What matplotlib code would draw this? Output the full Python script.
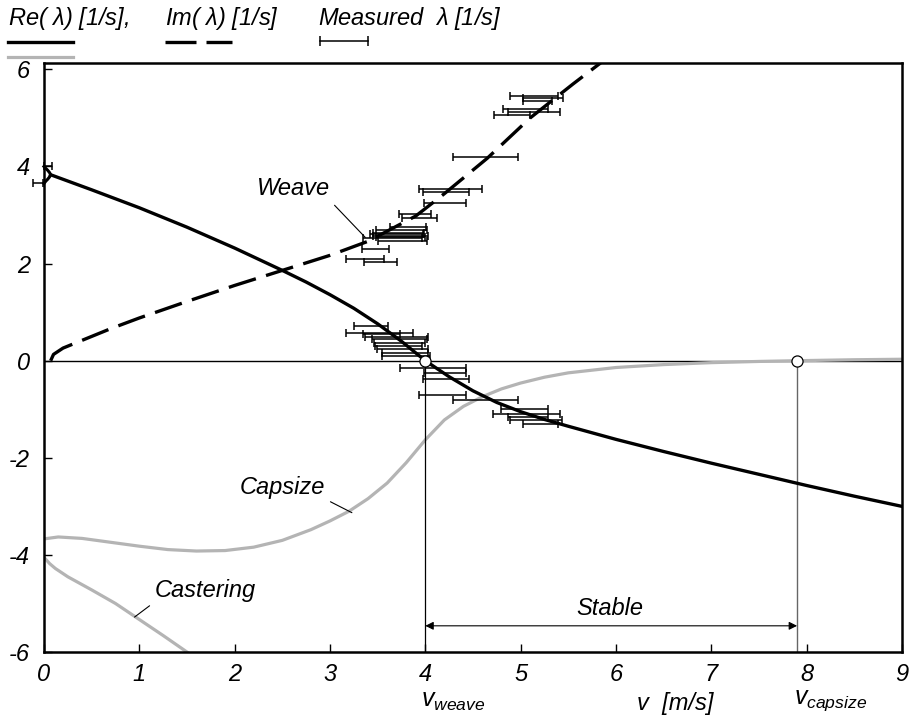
import numpy as np
import matplotlib
matplotlib.use("Agg")
import matplotlib.pyplot as plt
from matplotlib.lines import Line2D

plt.rcParams['font.family'] = ['Liberation Sans', 'DejaVu Sans']
plt.rcParams['font.style'] = 'italic'
plt.rcParams['mathtext.fontset'] = 'custom'
plt.rcParams['mathtext.it'] = 'Liberation Sans:italic'
plt.rcParams['mathtext.rm'] = 'Liberation Sans'
plt.rcParams['axes.unicode_minus'] = False

# weave mode: real part (two real roots at v=0 merging into a complex pair)
weave_split_v = [0.0, 0.02, 0.04, 0.06, 0.07, 0.06, 0.04, 0.02, 0.0]
weave_split_re = [4.00, 3.96, 3.92, 3.87, 3.83, 3.79, 3.74, 3.70, 3.65]
weave_v = [0.07, 0.5, 1.0, 1.5, 2.0, 2.5, 2.75, 3.0, 3.25, 3.5, 3.75, 4.0,
           4.25, 4.5, 4.75, 5.0, 5.25, 5.5, 6.0, 6.5, 7.0, 7.5, 8.0, 8.5, 9.0]
weave_re = [3.83, 3.52, 3.15, 2.75, 2.32, 1.86, 1.62, 1.36, 1.08, 0.76, 0.40,
            0.0, -0.33, -0.62, -0.86, -1.05, -1.21, -1.35, -1.62, -1.87,
            -2.11, -2.34, -2.57, -2.79, -3.00]

# weave mode: imaginary part
weave_im_v = [0.07, 0.1, 0.2, 0.4, 0.7, 1.0, 1.5, 2.0, 2.5, 3.0, 3.4, 3.9,
              4.2, 4.65, 5.1, 5.55, 5.95]
weave_im = [0.0, 0.13, 0.26, 0.42, 0.66, 0.88, 1.22, 1.55, 1.86, 2.17, 2.46,
            2.98, 3.44, 4.17, 5.0, 5.7, 6.3]

# capsize mode
capsize_v = [0.0, 0.15, 0.4, 0.7, 1.0, 1.3, 1.6, 1.9, 2.2, 2.5, 2.8, 3.0, 3.2,
             3.4, 3.6, 3.8, 4.0, 4.2, 4.4, 4.6, 4.8, 5.0, 5.25, 5.5, 6.0, 6.5,
             7.0, 7.5, 7.9, 8.5, 9.0]
capsize_re = [-3.67, -3.63, -3.66, -3.74, -3.82, -3.89, -3.92, -3.91, -3.84,
              -3.70, -3.48, -3.30, -3.10, -2.84, -2.52, -2.10, -1.63, -1.22,
              -0.94, -0.74, -0.58, -0.46, -0.34, -0.25, -0.14, -0.08, -0.04,
              -0.015, 0.0, 0.02, 0.03]

# castering mode
caster_v = [0.0, 0.06, 0.12, 0.25, 0.5, 0.75, 1.0, 1.25, 1.5, 1.65]
caster_re = [-4.05, -4.18, -4.28, -4.45, -4.72, -5.00, -5.33, -5.66, -6.00,
             -6.20]

# measured eigenvalues: real parts
meas_re_v = [-0.06, 0.04, 3.43, 3.52, 3.54, 3.70, 3.73, 3.73, 3.72, 3.76,
             3.79, 3.80, 4.08, 4.21, 4.22, 4.18, 4.63, 5.04, 5.06, 5.08,
             5.16, 5.21]
meas_re_err = [0.05, 0.04, 0.18, 0.35, 0.19, 0.33, 0.29, 0.27, 0.25, 0.27,
               0.24, 0.25, 0.35, 0.22, 0.24, 0.25, 0.34, 0.25, 0.35, 0.21,
               0.27, 0.18]
meas_re = [3.65, 4.00, 0.72, 0.58, 0.55, 0.49, 0.45, 0.37, 0.31, 0.25, 0.16,
           0.10, -0.14, -0.25, -0.37, -0.70, -0.80, -0.99, -1.10, -1.16,
           -1.22, -1.30]

# measured eigenvalues: imaginary parts
meas_im_v = [5.14, 5.23, 5.18, 5.05, 5.14, 4.91, 4.63, 4.26, 4.22, 4.21, 3.89,
             3.94, 3.82, 3.75, 3.72, 3.70, 3.74, 3.74, 3.66, 3.76, 3.48, 3.37,
             3.53]
meas_im_err = [0.25, 0.21, 0.15, 0.24, 0.27, 0.19, 0.34, 0.33, 0.24, 0.22,
               0.17, 0.18, 0.19, 0.27, 0.27, 0.28, 0.29, 0.26, 0.31, 0.26,
               0.14, 0.20, 0.17]
meas_im = [5.46, 5.42, 5.34, 5.18, 5.13, 5.07, 4.19, 3.53, 3.48, 3.24, 3.03,
           2.93, 2.76, 2.70, 2.64, 2.60, 2.57, 2.55, 2.52, 2.46, 2.31, 2.10,
           2.04]

v_weave = 4.0
v_capsize = 7.9
gray = '#b4b4b4'
fs = 17

fig = plt.figure(figsize=(9.2, 7.2), dpi=100)
ax = fig.add_axes([0.0478, 0.0944, 0.9326, 0.818])

ax.axhline(0, color='black', lw=1.0, zorder=1)
ax.plot(capsize_v, capsize_re, color=gray, lw=2.3, zorder=2)
ax.plot(caster_v, caster_re, color=gray, lw=2.3, zorder=2)
ax.plot(weave_split_v, weave_split_re, color='black', lw=2.2, zorder=3,
        clip_on=False)
ax.plot(weave_v, weave_re, color='black', lw=2.4, zorder=3)
ax.plot(weave_im_v, weave_im, color='black', lw=2.4, zorder=3,
        linestyle=(0, (8.5, 3.2)))

ax.errorbar(meas_re_v, meas_re, xerr=meas_re_err, fmt='none', ecolor='black',
            elinewidth=1.1, capsize=3, capthick=1.1, zorder=4, clip_on=False)
ax.errorbar(meas_im_v, meas_im, xerr=meas_im_err, fmt='none', ecolor='black',
            elinewidth=1.1, capsize=3, capthick=1.1, zorder=4)

# stability limits
ax.plot([v_weave, v_weave], [0, -6], color='black', lw=0.9, zorder=2)
ax.plot([v_capsize, v_capsize], [0, -6], color='#666666', lw=1.0, zorder=2)
ax.plot([v_weave, v_capsize], [0, 0], 'o', ms=8, mfc='white', mec='black',
        mew=0.9, zorder=6)

ax.annotate('', xy=(v_weave, -5.46), xytext=(v_capsize, -5.46),
            arrowprops=dict(arrowstyle='<|-|>', lw=0.8, color='black',
                            mutation_scale=12, shrinkA=0, shrinkB=0))
ax.text(5.94, -5.11, 'Stable', fontsize=fs, ha='center', va='center')

ax.annotate('Weave', xy=(3.37, 2.54), xytext=(3.0, 3.3), fontsize=fs,
            ha='right', va='bottom',
            arrowprops=dict(arrowstyle='-', lw=0.8, color='black',
                            relpos=(1, 0), shrinkA=2, shrinkB=0))
ax.annotate('Capsize', xy=(3.23, -3.13), xytext=(2.95, -2.85), fontsize=fs,
            ha='right', va='bottom',
            arrowprops=dict(arrowstyle='-', lw=0.8, color='black',
                            relpos=(1, 0), shrinkA=2, shrinkB=0))
ax.annotate('Castering', xy=(0.95, -5.28), xytext=(1.16, -4.97), fontsize=fs,
            ha='left', va='bottom',
            arrowprops=dict(arrowstyle='-', lw=0.8, color='black',
                            relpos=(0, 0), shrinkA=2, shrinkB=0))

ax.set_xlim(0, 9)
ax.set_ylim(-6, 6.13)
ax.set_xticks(range(0, 10))
ax.set_yticks([-6, -4, -2, 0, 2, 4, 6])
ax.tick_params(direction='in', length=6, width=1, labelsize=fs)
ax.tick_params(axis='x', pad=8)
ax.tick_params(axis='y', pad=10)
for s in ax.spines.values():
    s.set_linewidth(1.8)

# speed labels under the axis
ax.text(3.96, -0.062, r'$v_{weave}$', transform=ax.get_xaxis_transform(),
        fontsize=18, ha='left', va='top')
ax.text(7.87, -0.062, r'$v_{capsize}$', transform=ax.get_xaxis_transform(),
        fontsize=18, ha='left', va='top')
ax.text(6.62, -0.068, 'v  [m/s]', transform=ax.get_xaxis_transform(),
        fontsize=fs, ha='center', va='top')

# legend above the axes
lam = r'$\mathrm{\lambda}$'
fig.text(0.009, 0.975, 'Re( ' + lam + ') [1/s],', fontsize=fs, va='center')
fig.text(0.179, 0.975, 'Im( ' + lam + ') [1/s]', fontsize=fs, va='center')
fig.text(0.346, 0.975, 'Measured  ' + lam + ' [1/s]', fontsize=fs,
         va='center')
fig.add_artist(Line2D([0.009, 0.079], [0.942, 0.942], color='black', lw=2.4))
fig.add_artist(Line2D([0.009, 0.079], [0.921, 0.921], color=gray, lw=2.3))
fig.add_artist(Line2D([0.179, 0.252], [0.942, 0.942], color='black', lw=2.4,
                      linestyle=(0, (9.3, 3.0))))
fig.add_artist(Line2D([0.348, 0.400], [0.943, 0.943], color='black', lw=1.1,
                      marker='|', ms=7, mew=1.1))

fig.savefig('out.png', dpi=100)
